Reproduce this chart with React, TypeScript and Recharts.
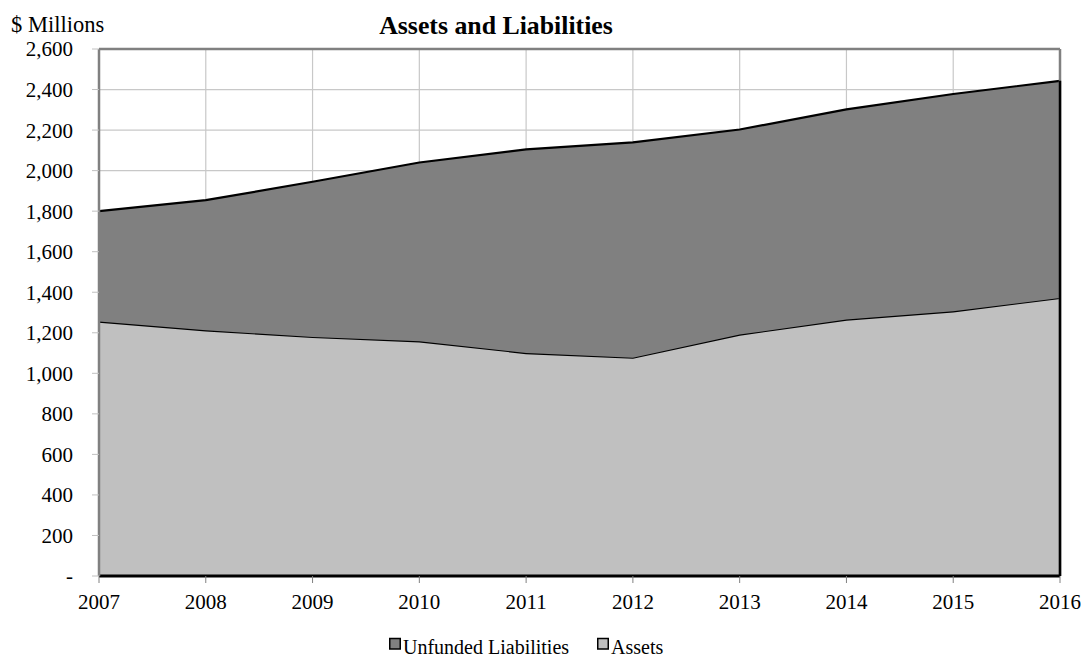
import React from "react";
import { Area, AreaChart, CartesianGrid, ReferenceLine, XAxis, YAxis } from "recharts";

const years = ["2007", "2008", "2009", "2010", "2011", "2012", "2013", "2014", "2015", "2016"];
const assets = [1255, 1212, 1179, 1158, 1100, 1077, 1191, 1265, 1306, 1372];
const unfunded = [545, 642, 766, 882, 1005, 1062, 1012, 1037, 1072, 1071];
const yTicks = [0, 200, 400, 600, 800, 1000, 1200, 1400, 1600, 1800, 2000, 2200, 2400, 2600];

const data = years.map((year, i) => ({ year, assets: assets[i], unfunded: unfunded[i] }));
const lastYear = years[years.length - 1];
const lastTotal = assets[assets.length - 1] + unfunded[unfunded.length - 1];

const font = "'Liberation Serif', 'Times New Roman', serif";
const fmt = new Intl.NumberFormat("en-US");

const legendItems = [
  { label: "Unfunded Liabilities", color: "#808080", x: 389 },
  { label: "Assets", color: "#c0c0c0", x: 597 },
];

export default function App() {
  return (
    <div style={{ position: "absolute", left: 0, top: 0, width: 1086, height: 658, background: "#fff" }}>
      <AreaChart width={1086} height={658} data={data} margin={{ top: 49, right: 26, left: 0, bottom: 42 }}>
        <CartesianGrid stroke="#c8c8c8" strokeWidth={1.2} />
        <XAxis
          dataKey="year"
          tickLine={{ stroke: "#808080" }}
          tickSize={7}
          tickMargin={11}
          axisLine={{ stroke: "#000", strokeWidth: 3 }}
          tick={{ fontSize: 21, fill: "#000", fontFamily: font }}
          height={40}
          interval={0}
        />
        <YAxis
          width={99}
          domain={[0, 2600]}
          ticks={yTicks}
          interval={0}
          tickSize={7}
          tickMargin={19}
          tickLine={{ stroke: "#c0c0c0" }}
          axisLine={{ stroke: "#808080", strokeWidth: 2.5 }}
          tick={{ fontSize: 21, fill: "#000", fontFamily: font }}
          tickFormatter={(v: number) => (v === 0 ? "-" : fmt.format(v))}
        />
        <ReferenceLine y={2600} stroke="#808080" strokeWidth={2.5} />
        <ReferenceLine x={lastYear} stroke="#808080" strokeWidth={2.5} />
        <Area
          type="linear"
          dataKey="assets"
          stackId="1"
          stroke="#000"
          strokeWidth={2.2}
          fill="#c0c0c0"
          fillOpacity={1}
          isAnimationActive={false}
          dot={false}
          activeDot={false}
        />
        <Area
          type="linear"
          dataKey="unfunded"
          stackId="1"
          stroke="#000"
          strokeWidth={2.2}
          fill="#808080"
          fillOpacity={1}
          isAnimationActive={false}
          dot={false}
          activeDot={false}
        />
        <ReferenceLine
          segment={[
            { x: lastYear, y: 0 },
            { x: lastYear, y: lastTotal },
          ]}
          stroke="#000"
          strokeWidth={2.5}
        />
      </AreaChart>
      <svg width={1086} height={658} style={{ position: "absolute", left: 0, top: 0, pointerEvents: "none" }}>
        <text x={11} y={32} fontSize={22.5} fontFamily={font} fill="#000">
          $ Millions
        </text>
        <text x={496} y={34} fontSize={25.8} fontWeight="bold" fontFamily={font} fill="#000" textAnchor="middle">
          Assets and Liabilities
        </text>
        {legendItems.map((item) => (
          <g key={item.label}>
            <rect x={item.x + 0.75} y={638.5} width={10.5} height={10.5} fill={item.color} stroke="#000" strokeWidth={1.5} />
            <text x={item.x + 14} y={654} fontSize={20} fontFamily={font} fill="#000">
              {item.label}
            </text>
          </g>
        ))}
      </svg>
    </div>
  );
}
